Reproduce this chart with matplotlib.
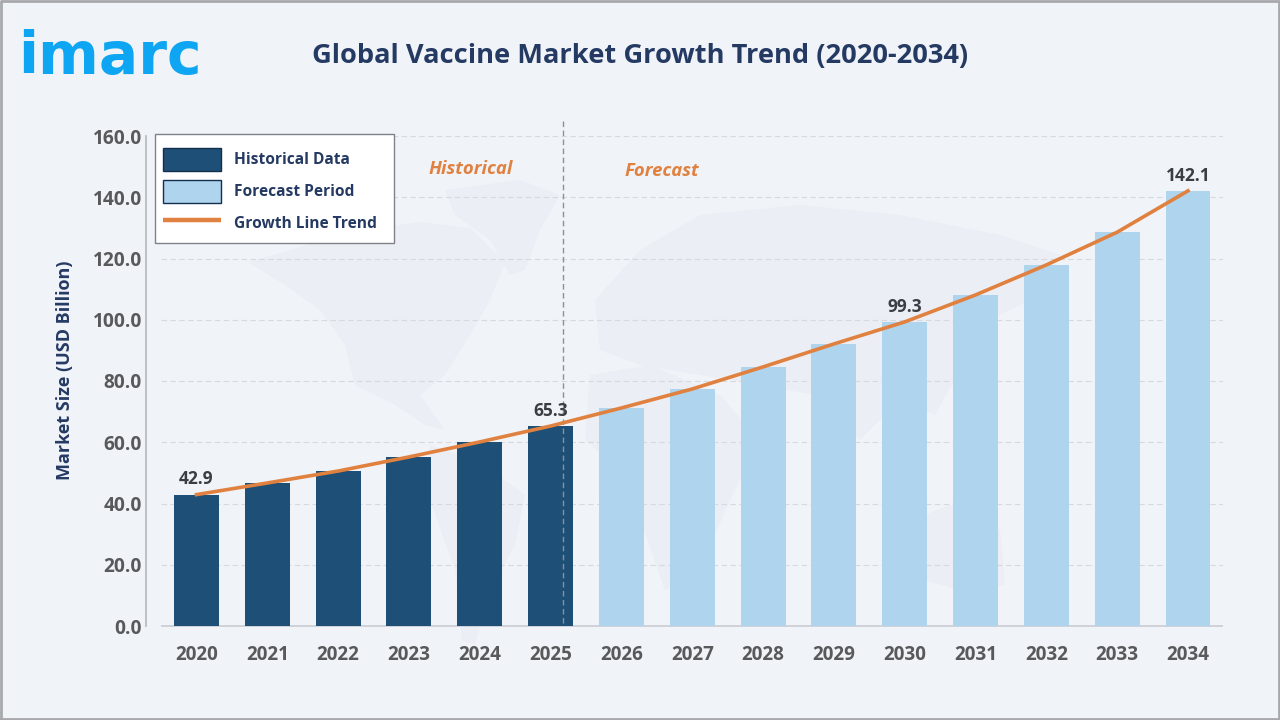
import matplotlib
matplotlib.use('Agg')
import matplotlib.pyplot as plt
from matplotlib.patches import Patch, Polygon, Rectangle
from matplotlib.lines import Line2D

plt.rcParams['font.family'] = ['Open Sans', 'DejaVu Sans']

#========================== data ===========================#
hist_years = [2020, 2021, 2022, 2023, 2024, 2025]
hist_values = [42.9, 46.7, 50.6, 55.2, 60.1, 65.3]
fore_years = [2026, 2027, 2028, 2029, 2030, 2031, 2032, 2033, 2034]
fore_values = [71.2, 77.4, 84.6, 92.1, 99.3, 108.1, 117.9, 128.6, 142.1]
labelled_years = [2020, 2025, 2030, 2034]
yticks = [0, 20, 40, 60, 80, 100, 120, 140, 160]

#========================== colours ===========================#
BG = '#f0f3f8'
MAP = '#ebeff5'
DARK = '#1d4f77'
LIGHT = '#aed4ee'
ORANGE = '#e0813f'
NAVY = '#253a63'
GREY = '#58595b'

W, H = 1280, 720
fig = plt.figure(figsize=(W / 100, H / 100), dpi=100, facecolor=BG)

#========================== backdrop in pixel coords ===========================#
back = fig.add_axes([0, 0, 1, 1])
back.set_xlim(0, W)
back.set_ylim(H, 0)
back.axis('off')

# faint world map, rough outlines only
north_america = [(248, 262), (290, 250), (350, 232), (420, 222), (470, 228), (505, 262), (490, 300),
                 (470, 335), (445, 375), (420, 395), (445, 430), (425, 425), (395, 405), (355, 385),
                 (345, 345), (320, 310), (285, 285)]
greenland = [(445, 190), (520, 180), (560, 195), (540, 230), (525, 270), (510, 275), (490, 240), (455, 215)]
south_america = [(430, 445), (480, 462), (525, 495), (515, 545), (490, 590), (475, 645), (462, 640), (455, 570), (430, 500)]
eurasia = [(595, 300), (640, 250), (700, 215), (800, 205), (900, 215), (1000, 235), (1060, 255), (1040, 295),
           (990, 320), (960, 370), (935, 415), (900, 400), (860, 440), (815, 395), (760, 385), (700, 375),
           (640, 365), (600, 350)]
africa = [(590, 375), (650, 365), (720, 395), (760, 440), (730, 500), (700, 570), (665, 590), (640, 520), (620, 470), (585, 440)]
australia = [(900, 525), (950, 505), (1000, 530), (1005, 585), (960, 590), (905, 575)]
for shape in [north_america, greenland, south_america, eurasia, africa, australia]:
    back.add_patch(Polygon(shape, closed=True, facecolor=MAP, edgecolor='none', zorder=1))

# outer frame
back.plot([1, 1, W - 1, W - 1], [H - 1, 1, 1, H - 1], color='#a8a8ac', linewidth=2, zorder=2)
back.plot([1, W - 1], [H - 1, H - 1], color='#a8a8ac', linewidth=2, zorder=2)

# logo and title
back.text(110, 74, 'imarc', color='#0ea5f2', fontsize=42, fontweight='bold', family='DejaVu Sans',
          ha='center', va='baseline', zorder=3)
back.text(640, 56, 'Global Vaccine Market Growth Trend (2020-2034)', color=NAVY, fontsize=19.6,
          fontweight='bold', ha='center', va='center', zorder=3)

#========================== chart ===========================#
x0, x1 = 146, 1223
y_top, y_bot = 136, 626
ax = fig.add_axes([x0 / W, 1 - y_bot / H, (x1 - x0) / W, (y_bot - y_top) / H])
ax.patch.set_alpha(0)

step = (1188 - 196.5) / 14
xmin = 2020 - (196.5 - x0) / step
xmax = 2034 + (x1 - 1188) / step
ax.set_xlim(xmin, xmax)
ax.set_ylim(0, 160)

grid_start = 2020 - (196.5 - 161) / step
ax.hlines(yticks[1:], grid_start, xmax, colors='#d6d9de', linestyles=(0, (5, 3)), linewidth=0.8, zorder=1)
ax.hlines(0, grid_start, xmax, colors='#c9ccd2', linewidth=1.2, zorder=1, clip_on=False)

bar_w = 0.635
ax.bar(hist_years, hist_values, width=bar_w, color=DARK, zorder=2)
ax.bar(fore_years, fore_values, width=bar_w, color=LIGHT, zorder=2)

all_years = hist_years + fore_years
all_values = hist_values + fore_values
ax.plot(all_years, all_values, color=ORANGE, linewidth=2.6, solid_joinstyle='round', zorder=4)

# historical / forecast divider, drawn downward so a dash starts at the top
ax.plot([2025.18, 2025.18], [165, 0], color='#8d9197', linewidth=1, linestyle=(0, (4, 2.5)), clip_on=False, zorder=3)

for yr in labelled_years:
    val = all_values[all_years.index(yr)]
    ax.annotate('%.1f' % val, (yr, val), xytext=(0, 4.5), textcoords='offset points', ha='center', va='bottom',
                fontsize=12.5, fontweight='bold', color='#3a3d42', zorder=5)

ax.text(2023.87, 149.2, 'Historical', color=ORANGE, fontsize=13.3, fontweight='bold', style='italic', ha='center', va='center')
ax.text(2026.57, 148.5, 'Forecast', color=ORANGE, fontsize=13.3, fontweight='bold', style='italic', ha='center', va='center')

for side in ['top', 'right', 'bottom']:
    ax.spines[side].set_visible(False)
ax.spines['left'].set_color('#b4b7bc')
ax.spines['left'].set_linewidth(1.2)

ax.set_xticks(all_years)
ax.set_xticklabels([str(y) for y in all_years])
ax.set_yticks(yticks)
ax.set_yticklabels(['%.1f' % y for y in yticks])
ax.tick_params(axis='x', length=0, labelsize=13.6, labelcolor=GREY, pad=14)
ax.tick_params(axis='y', length=0, labelsize=13.8, labelcolor=GREY, pad=3)
for lab in ax.get_xticklabels() + ax.get_yticklabels():
    lab.set_fontweight('bold')

ax.set_ylabel('Market Size (USD Billion)', color=NAVY, fontsize=13, fontweight='bold', va='center')
ax.yaxis.set_label_coords((65 - x0) / (x1 - x0), (y_bot - 370) / (y_bot - y_top))

# legend box is drawn apart, its padding is wider at top than at the sides
ax.add_patch(Rectangle((155, 134), 239, 109, transform=back.transData, facecolor='white', edgecolor='#7f8287',
                       linewidth=1, clip_on=False, zorder=5.5))
handles = [Patch(facecolor=DARK, edgecolor='#12304d', linewidth=1, label='Historical Data'),
           Patch(facecolor=LIGHT, edgecolor='#12304d', linewidth=1, label='Forecast Period'),
           Line2D([0], [0], color=ORANGE, linewidth=3.2, solid_capstyle='butt', label='Growth Line Trend')]
leg = ax.legend(handles=handles, loc='upper left', bbox_to_anchor=((163 - x0) / (x1 - x0), (y_bot - 148) / (y_bot - y_top)),
                fontsize=11.2, frameon=False, handlelength=3.73, handleheight=1.9, handletextpad=0.84,
                labelspacing=0.57, borderaxespad=0, borderpad=0)
leg.set_zorder(6)
for t in leg.get_texts():
    t.set_color(NAVY)
    t.set_fontweight('bold')

plt.savefig('out.png', dpi=100, facecolor=fig.get_facecolor())
